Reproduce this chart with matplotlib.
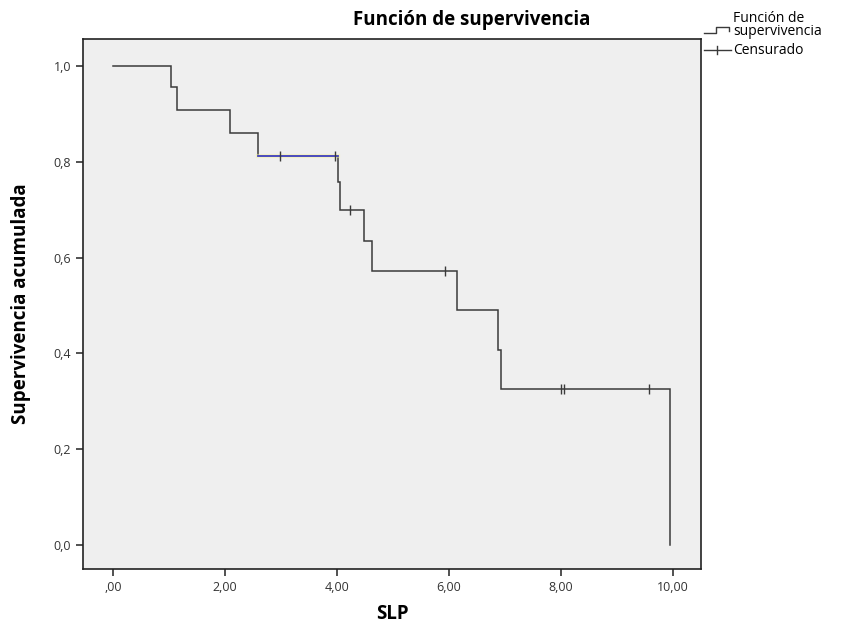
import matplotlib
matplotlib.use("Agg")
import matplotlib.pyplot as plt
from matplotlib.lines import Line2D

# Kaplan-Meier steps
step_x = [0.0, 1.03, 1.14, 2.09, 2.59, 4.02, 4.05, 4.48, 4.62, 6.14, 6.88, 6.93, 9.95]
step_y = [1.0, 0.955, 0.908, 0.860, 0.812, 0.757, 0.700, 0.634, 0.571, 0.490, 0.408, 0.326, 0.0]

# censored observations
cens_x = [2.98, 3.96, 4.23, 5.93, 8.00, 8.06, 9.57]
cens_y = [0.812, 0.812, 0.700, 0.571, 0.326, 0.326, 0.326]

# highlighted (blue) segment
hl_x = [2.59, 4.02]
hl_y = [0.812, 0.812]

xticks = [0, 2, 4, 6, 8, 10]
xlabels = [",00", "2,00", "4,00", "6,00", "8,00", "10,00"]
yticks = [0.0, 0.2, 0.4, 0.6, 0.8, 1.0]
ylabels = ["0,0", "0,2", "0,4", "0,6", "0,8", "1,0"]

plt.rcParams['font.family'] = ['Open Sans', 'DejaVu Sans']

W, H = 843, 628
fig = plt.figure(figsize=(W / 100, H / 100), dpi=100)
ax = fig.add_axes([83 / W, 1 - 569 / H, (701 - 83) / W, (569 - 39) / H])
ax.set_facecolor("#efefef")

lc = "#3a3a3a"
# build step path ending with the final drop
xs, ys = [step_x[0]], [step_y[0]]
for i in range(1, len(step_x)):
    xs += [step_x[i], step_x[i]]
    ys += [step_y[i - 1], step_y[i]]
ax.plot(xs, ys, color=lc, lw=1.1, solid_joinstyle="miter")
ax.plot(hl_x, hl_y, color="#f3f0a0", lw=3, alpha=0.5, zorder=3)
ax.plot(hl_x, hl_y, color="#3c3cc8", lw=1.2, zorder=4)
ax.plot(cens_x, cens_y, ls="none", marker="|", ms=7, mew=1.0, color=lc, zorder=5)

ax.set_xlim(-0.54, 10.5)
ax.set_ylim(-0.05, 1.056)
ax.set_xticks(xticks)
ax.set_xticklabels(xlabels)
ax.set_yticks(yticks)
ax.set_yticklabels(ylabels)
ax.tick_params(direction="out", length=5, width=1.2, labelsize=9, colors="#333333")
for s in ax.spines.values():
    s.set_linewidth(1.2)
    s.set_color("#222222")

ax.set_xlabel("SLP", fontsize=13.5, fontweight="bold", labelpad=7)
ax.set_ylabel("Supervivencia acumulada", fontsize=13.5, fontweight="bold", labelpad=16)
fig.text(472 / W, 1 - 20 / H, "Función de supervivencia", ha="center", va="center",
         fontsize=13.5, fontweight="bold")

# legend drawn by hand outside the axes
def fx(p):
    return p / W

def fy(p):
    return 1 - p / H

fig.add_artist(Line2D([fx(704), fx(716), fx(716), fx(729), fx(729)],
                      [fy(33), fy(33), fy(27), fy(27), fy(31)], color=lc, lw=1.0))
fig.text(fx(733), fy(25), "Función de\nsupervivencia", fontsize=10, va="center",
         linespacing=0.85)
fig.add_artist(Line2D([fx(704), fx(731)], [fy(50), fy(50)], color=lc, lw=1.0))
fig.add_artist(Line2D([fx(717), fx(717)], [fy(46), fy(54)], color=lc, lw=1.0))
fig.text(fx(733), fy(50.5), "Censurado", fontsize=10, va="center")

fig.savefig("out.png", dpi=100)
